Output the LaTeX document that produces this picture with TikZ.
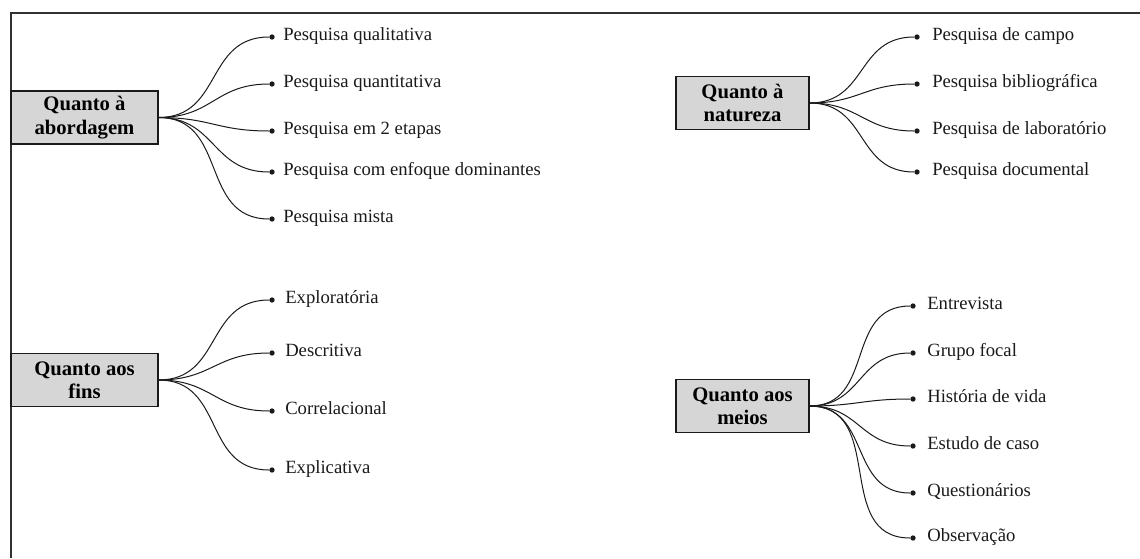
\documentclass[tikz,border=0pt]{standalone}
\usepackage{fontspec}
\setmainfont{Liberation Serif}
\definecolor{boxgray}{HTML}{D6D6D6}
\definecolor{ink}{HTML}{1A1A1A}
\begin{document}
\begin{tikzpicture}[x=0.75pt,y=-0.75pt,
  cat/.style={draw=ink, fill=boxgray, line width=0.8pt, minimum height=39.75pt,
    align=center, font=\fontsize{15.5}{17.5}\selectfont\bfseries, inner sep=0pt},
  catL/.style={cat, minimum width=110.25pt},
  catR/.style={cat, minimum width=99.75pt},
  dot/.style={circle, fill=ink, inner sep=0pt, minimum size=4pt},
  item/.style={anchor=mid west, inner sep=0pt, font=\fontsize{14}{16}\selectfont, text=ink},
  conn/.style={draw=ink, line width=0.75pt, out=0, in=180, looseness=1.2},
  frame/.style={draw=ink!90, line width=1.5pt}]
\useasboundingbox (0,0) rectangle (1140,558);
% frame
\coordinate (fa) at (11,558);
\coordinate (fb) at (11,13);
\coordinate (fc) at (1140,13);
\draw[frame] (fa) -- (fb) -- (fc);

% categories
\node[catL] (abord) at (84.5,117.5) {Quanto à\\abordagem};
\node[catL] (fins) at (84.5,380) {Quanto aos\\fins};
\node[catR] (nat) at (742.5,103) {Quanto à\\natureza};
\node[catR] (meios) at (742.5,406) {Quanto aos\\meios};

% Quanto à abordagem
\foreach \n/\y/\t in {1/37/{Pesquisa qualitativa},2/84/{Pesquisa quantitativa},3/131/{Pesquisa em 2 etapas},4/172/{Pesquisa com enfoque dominantes},5/219/{Pesquisa mista}}{
  \node[dot] (a\n) at (272,\y) {};
  \node[item] (ta\n) at (283,\y) {\t};
  \draw[conn] (abord.east) to (a\n);
}
% Quanto aos fins
\foreach \n/\y/\t in {1/300/{Exploratória},2/353/{Descritiva},3/411/{Correlacional},4/470/{Explicativa}}{
  \node[dot] (f\n) at (272,\y) {};
  \node[item] (tf\n) at (285,\y) {\t};
  \draw[conn] (fins.east) to (f\n);
}
% Quanto à natureza
\foreach \n/\y/\t in {1/37/{Pesquisa de campo},2/84/{Pesquisa bibliográfica},3/131/{Pesquisa de laboratório},4/172/{Pesquisa documental}}{
  \node[dot] (n\n) at (917,\y) {};
  \node[item] (tn\n) at (932,\y) {\t};
  \draw[conn] (nat.east) to (n\n);
}
% Quanto aos meios
\foreach \n/\y/\t in {1/306/{Entrevista},2/353/{Grupo focal},3/399/{História de vida},4/446/{Estudo de caso},5/493/{Questionários},6/538/{Observação}}{
  \node[dot] (m\n) at (913,\y) {};
  \node[item] (tm\n) at (927,\y) {\t};
  \draw[conn] (meios.east) to (m\n);
}
\end{tikzpicture}
\end{document}
